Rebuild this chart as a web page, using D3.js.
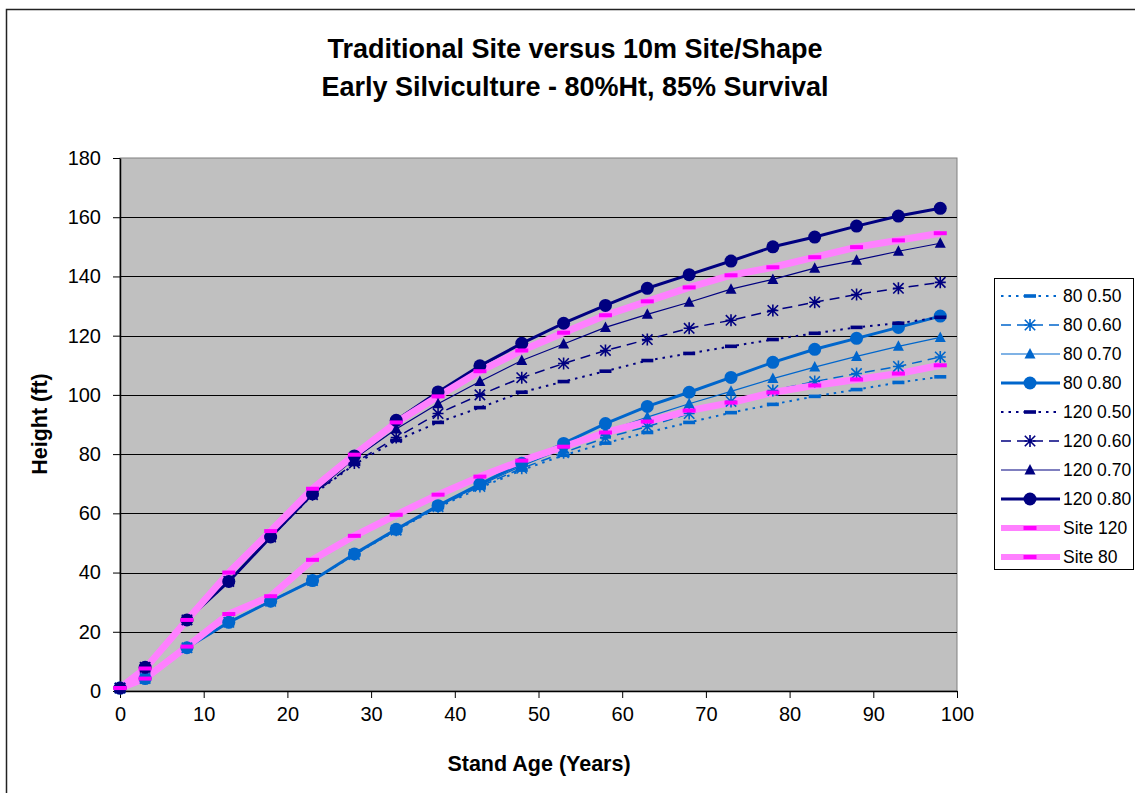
<!DOCTYPE html>
<html>
<head>
<meta charset="utf-8">
<script src="https://cdn.jsdelivr.net/npm/d3@7"></script>
<style>
  html, body { margin: 0; padding: 0; background: #fff; }
  svg { display: block; font-family: "Liberation Sans", Arial, sans-serif; }
</style>
</head>
<body>
<svg id="chart" width="1135" height="793"></svg>
<script>
// Stand age (years) at each measurement
const ages = [0, 3, 8, 13, 18, 23, 28, 33, 38, 43, 48, 53, 58, 63, 68, 73, 78, 83, 88, 93, 98];

// Height (ft) by site index / shape
const h80_050 = [1, 4.2, 14.6, 23.2, 30.3, 37.3, 46.0, 54.2, 62.0, 68.6, 74.6, 79.6, 83.7, 87.3, 90.7, 94.0, 96.8, 99.5, 101.8, 104.2, 106.1];
const h80_060 = [1, 4.2, 14.6, 23.2, 30.3, 37.3, 46.1, 54.3, 62.2, 69.1, 75.2, 80.5, 85.5, 89.3, 93.7, 97.8, 101.5, 104.5, 107.2, 109.6, 112.8];
const h80_070 = [1, 4.2, 14.6, 23.2, 30.3, 37.3, 46.2, 54.4, 62.4, 69.5, 76.0, 81.8, 87.5, 92.5, 97.0, 101.2, 105.5, 109.4, 113.0, 116.4, 119.4];
const h80_080 = [1, 4.2, 14.6, 23.2, 30.3, 37.3, 46.3, 54.6, 62.6, 69.9, 76.9, 83.6, 90.3, 96.1, 100.9, 105.9, 111.0, 115.4, 119.1, 122.8, 126.6];
const h120_050 = [1, 8, 24, 37, 52, 66.2, 76.5, 84.6, 90.7, 95.7, 100.9, 104.5, 108.0, 111.6, 114.0, 116.4, 118.7, 120.8, 122.8, 124.2, 126.2];
const h120_060 = [1, 8, 24, 37, 52, 66.3, 77.0, 85.6, 93.7, 100.0, 105.8, 110.6, 115.0, 118.7, 122.5, 125.2, 128.5, 131.3, 133.9, 136.0, 138.0];
const h120_070 = [1, 8, 24, 37, 52, 66.5, 78.4, 88.5, 97.0, 104.5, 111.6, 117.2, 122.8, 127.2, 131.3, 135.7, 139.0, 142.8, 145.5, 148.5, 151.2];
const h120_080 = [1, 8, 24, 37, 52, 66.6, 79.4, 91.4, 101.0, 109.8, 117.4, 124.2, 130.2, 136.0, 140.6, 145.2, 150.0, 153.3, 157.0, 160.4, 163.0];
const hSite120 = [1, 7.6, 24, 40, 54, 68.3, 79.8, 90.7, 99.5, 108.0, 115.0, 121.0, 126.9, 131.6, 136.3, 140.4, 143.1, 146.5, 149.9, 152.2, 154.6];
const hSite80 = [1, 4.2, 15, 26, 32, 44.3, 52.4, 59.5, 66.3, 72.4, 77.8, 82.5, 87.3, 91.0, 94.7, 97.4, 100.8, 103.2, 105.2, 107.2, 110.0];

const seriesNames = ["80 0.50", "80 0.60", "80 0.70", "80 0.80", "120 0.50", "120 0.60", "120 0.70", "120 0.80", "Site 120", "Site 80"];
const seriesValues = [h80_050, h80_060, h80_070, h80_080, h120_050, h120_060, h120_070, h120_080, hSite120, hSite80];

const xTicks = [0, 10, 20, 30, 40, 50, 60, 70, 80, 90, 100];
const yTicks = [0, 20, 40, 60, 80, 100, 120, 140, 160, 180];

const titleLines = ["Traditional Site versus 10m Site/Shape", "Early Silviculture - 80%Ht, 85% Survival"];

// Styling per series
const blue = "#0066CC", navy = "#000080", pinkLine = "#FF80FF", magenta = "#FF00FF";
const styles = [
  { color: blue, width: 2, dash: "2.5,5", marker: "dash" },
  { color: blue, width: 1.5, dash: "10,6", marker: "star" },
  { color: blue, width: 1.2, dash: null, marker: "triangle" },
  { color: blue, width: 3, dash: null, marker: "circle" },
  { color: navy, width: 2, dash: "2.5,5", marker: "dash" },
  { color: navy, width: 1.5, dash: "10,6", marker: "star" },
  { color: navy, width: 1.2, dash: null, marker: "triangle" },
  { color: navy, width: 3, dash: null, marker: "circle" },
  { color: pinkLine, width: 7, dash: null, marker: "pinkdash" },
  { color: pinkLine, width: 7, dash: null, marker: "pinkdash" }
];

const series = seriesNames.map((name, i) => ({
  name,
  style: styles[i],
  points: ages.map((a, j) => ({ x: a, y: seriesValues[i][j] }))
}));

const svg = d3.select("#chart");

// Outer chart frame
svg.append("rect")
  .attr("x", 6.5).attr("y", 9.5)
  .attr("width", 1140).attr("height", 800)
  .attr("fill", "#fff").attr("stroke", "#222").attr("stroke-width", 1.5);

const plot = { left: 120, right: 957, top: 158, bottom: 691 };
const x = d3.scaleLinear().domain([0, 100]).range([plot.left, plot.right]);
const y = d3.scaleLinear().domain([0, 180]).range([plot.bottom, plot.top]);

// Plot background
svg.append("rect")
  .attr("x", plot.left).attr("y", plot.top)
  .attr("width", plot.right - plot.left).attr("height", plot.bottom - plot.top)
  .attr("fill", "#C0C0C0").attr("stroke", "#808080").attr("stroke-width", 1);

// Horizontal gridlines
svg.append("g").selectAll("line")
  .data(yTicks.filter(t => t > 0 && t < 180))
  .join("line")
  .attr("x1", plot.left).attr("x2", plot.right)
  .attr("y1", d => Math.round(y(d)) + 0.5).attr("y2", d => Math.round(y(d)) + 0.5)
  .attr("stroke", "#000").attr("stroke-width", 1);

// Axes
const xAxis = svg.append("g")
  .attr("transform", `translate(0,${plot.bottom})`)
  .call(d3.axisBottom(x).tickValues(xTicks).tickSize(7).tickSizeOuter(0).tickPadding(9).tickFormat(d3.format("d")));
const yAxis = svg.append("g")
  .attr("transform", `translate(${plot.left},0)`)
  .call(d3.axisLeft(y).tickValues(yTicks).tickSize(7).tickSizeOuter(0).tickPadding(12).tickFormat(d3.format("d")));

[xAxis, yAxis].forEach(g => {
  g.select(".domain").attr("stroke", "#000").attr("stroke-width", 1.5);
  g.selectAll(".tick line").attr("stroke", "#000");
  g.selectAll(".tick text")
    .attr("font-family", "Liberation Sans, Arial, sans-serif")
    .attr("font-size", 20).attr("fill", "#000");
});

// Titles
svg.append("g").selectAll("text")
  .data(titleLines)
  .join("text")
  .attr("x", 575).attr("y", (d, i) => 58 + i * 38)
  .attr("text-anchor", "middle")
  .attr("font-size", 27).attr("font-weight", "bold")
  .text(d => d);

svg.append("text")
  .attr("x", 539).attr("y", 771)
  .attr("text-anchor", "middle")
  .attr("font-size", 21.5).attr("font-weight", "bold")
  .text("Stand Age (Years)");

svg.append("text")
  .attr("transform", "translate(47,424) rotate(-90)")
  .attr("text-anchor", "middle")
  .attr("font-size", 21.5).attr("font-weight", "bold")
  .text("Height (ft)");

// Marker drawing
function drawMarker(g, type, color) {
  if (type === "circle") {
    g.append("circle").attr("r", 6.5).attr("fill", color);
  } else if (type === "triangle") {
    g.append("path").attr("d", "M0,-6L5.5,4.5L-5.5,4.5Z").attr("fill", color);
  } else if (type === "star") {
    g.append("path")
      .attr("d", "M0,-6V6M-5.2,-5.2L5.2,5.2M-5.2,5.2L5.2,-5.2M-5.5,0H5.5")
      .attr("stroke", color).attr("stroke-width", 1.6).attr("fill", "none");
  } else if (type === "dash") {
    g.append("rect").attr("x", -6).attr("y", -1.8).attr("width", 12).attr("height", 3.6).attr("fill", color);
  } else if (type === "pinkdash") {
    g.append("rect").attr("x", -6.5).attr("y", -2).attr("width", 13).attr("height", 4).attr("fill", magenta);
  }
}

const line = d3.line().x(d => x(d.x)).y(d => y(d.y));

// Lines first, then markers over them
const linesG = svg.append("g");
series.forEach(s => {
  linesG.append("path")
    .attr("d", line(s.points))
    .attr("fill", "none")
    .attr("stroke", s.style.color)
    .attr("stroke-width", s.style.width)
    .attr("stroke-dasharray", s.style.dash)
    .attr("stroke-linejoin", "round");
});
const markersG = svg.append("g");
series.forEach(s => {
  s.points.forEach(p => {
    const g = markersG.append("g").attr("transform", `translate(${x(p.x)},${y(p.y)})`);
    drawMarker(g, s.style.marker, s.style.color);
  });
});

// Legend
const legend = svg.append("g");
legend.append("rect")
  .attr("x", 994.5).attr("y", 278.5).attr("width", 139).attr("height", 291)
  .attr("fill", "#fff").attr("stroke", "#000").attr("stroke-width", 1);
series.forEach((s, i) => {
  const cy = 296 + i * 29;
  legend.append("line")
    .attr("x1", 1001).attr("x2", 1060).attr("y1", cy).attr("y2", cy)
    .attr("stroke", s.style.color)
    .attr("stroke-width", s.style.width === 7 ? 6 : s.style.width)
    .attr("stroke-dasharray", s.style.dash);
  drawMarker(legend.append("g").attr("transform", `translate(1030,${cy})`), s.style.marker, s.style.color);
  legend.append("text")
    .attr("x", 1063).attr("y", cy + 6)
    .attr("font-size", 17.5)
    .text(s.name);
});
</script>
</body>
</html>
